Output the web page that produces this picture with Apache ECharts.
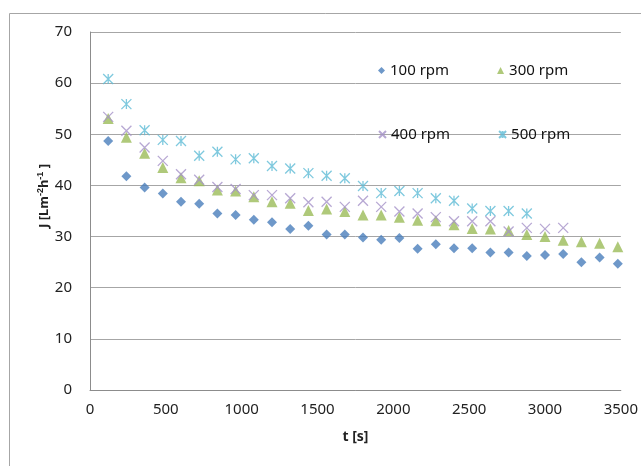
<!DOCTYPE html>
<html>
<head>
<meta charset="utf-8">
<script src="https://cdn.jsdelivr.net/npm/echarts@6/dist/echarts.min.js"></script>
<style>
html,body{margin:0;padding:0;background:#fff;}
#main{width:641px;height:466px;}
</style>
</head>
<body>
<div id="main"></div>
<script>
// time points [s]
var times = [120,240,360,480,600,720,840,960,1080,1200,1320,1440,1560,1680,1800,1920,2040,2160,2280,2400,2520,2640,2760,2880,3000,3120,3240,3360,3480];
// flux J for each speed
var rpm100 = [48.7,41.8,39.6,38.4,36.8,36.4,34.5,34.2,33.3,32.8,31.5,32.1,30.4,30.4,29.8,29.4,29.7,27.6,28.5,27.7,27.7,26.9,26.9,26.2,26.4,26.6,25.0,25.9,24.7];
var rpm300 = [53.1,49.4,46.3,43.5,41.5,40.9,39.1,38.9,37.8,36.8,36.5,35.1,35.4,34.9,34.2,34.2,33.8,33.2,33.1,32.3,31.6,31.5,31.2,30.4,30.0,29.3,29.0,28.7,28.0];
var rpm400 = [53.4,50.7,47.4,44.8,42.2,41.1,39.7,39.3,38.1,38.1,37.5,36.7,36.8,35.8,37.0,35.8,34.9,34.5,33.8,33.0,33.0,33.0,31.0,31.7,31.5,31.7];
var rpm500 = [60.8,55.9,50.8,48.9,48.7,45.8,46.6,45.1,45.3,43.8,43.3,42.4,41.9,41.4,39.9,38.5,38.9,38.5,37.5,37.0,35.5,35.0,35.0,34.5];
var seriesNames = ['100 rpm','300 rpm','400 rpm','500 rpm'];

var font = 'Noto Sans';

function pairs(vals){
    var out = [];
    for(var i = 0; i < vals.length; i++){
        out.push([times[i], vals[i]]);
    }
    return out;
}

var myChart = echarts.init(document.getElementById('main'));

var option = {
    backgroundColor: '#fff',
    animation: false,
    textStyle: {fontFamily: font},
    grid: {left: 90, right: 20, top: 32, bottom: 76},
    graphic: [
        {
            type: 'rect', silent: true, z: -10,
            shape: {x: 9.5, y: 13.5, width: 700, height: 500},
            style: {fill: 'none', stroke: '#a6a6a6', lineWidth: 1}
        },
        {
            type: 'text', x: 44, y: 196, rotation: Math.PI / 2,
            style: {
                text: 'J [Lm{s|-2}h{s|-1} ]',
                align: 'center', verticalAlign: 'middle',
                font: 'bold 13px "Noto Sans"', fill: '#222',
                rich: {s: {fontSize: 9, fontWeight: 'bold', verticalAlign: 'top', padding: [0,0,6,0]}}
            }
        }
    ],
    legend: [
        {
            data: ['100 rpm','300 rpm'],
            left: 373, top: 58, itemWidth: 7, itemHeight: 7, itemGap: 48, itemTextGap: 7,
            textStyle: {fontSize: 15, color: '#111', fontFamily: font}
        },
        {
            data: ['400 rpm','500 rpm'],
            left: 373, top: 122, itemWidth: 7, itemHeight: 7, itemGap: 48, itemTextGap: 7,
            textStyle: {fontSize: 15, color: '#111', fontFamily: font}
        }
    ],
    xAxis: {
        type: 'value', min: 0, max: 3500, interval: 500,
        name: 't [s]', nameLocation: 'middle', nameGap: 40,
        nameTextStyle: {fontSize: 14, fontWeight: 'bold', color: '#222', fontFamily: font},
        axisLine: {show: true, lineStyle: {color: '#8c8c8c'}},
        axisTick: {show: false},
        axisLabel: {fontSize: 15, color: '#222', margin: 12, formatter: function(v){ return String(v); }},
        splitLine: {show: false}
    },
    yAxis: {
        type: 'value', min: 0, max: 70, interval: 10,
        axisLine: {show: true, lineStyle: {color: '#8c8c8c'}},
        axisTick: {show: false},
        axisLabel: {fontSize: 15, color: '#222', margin: 18},
        splitLine: {show: true, lineStyle: {color: '#a6a6a6', width: 1}}
    },
    series: [
        {
            name: seriesNames[0], type: 'scatter', symbol: 'diamond', symbolSize: 10,
            itemStyle: {color: '#4a7ebb'}, data: pairs(rpm100)
        },
        {
            name: seriesNames[1], type: 'scatter', symbol: 'triangle', symbolSize: 11,
            itemStyle: {color: '#9bbb59'}, data: pairs(rpm300)
        },
        {
            name: seriesNames[2], type: 'scatter', symbol: 'path://M0,0L10,10M10,0L0,10', symbolSize: 10,
            itemStyle: {color: 'rgba(0,0,0,0)', borderColor: '#a592c8', borderWidth: 1.3},
            data: pairs(rpm400)
        },
        {
            name: seriesNames[3], type: 'scatter', symbol: 'path://M0,0L10,10M10,0L0,10M5,0L5,10', symbolSize: 10,
            itemStyle: {color: 'rgba(0,0,0,0)', borderColor: '#5fbcd6', borderWidth: 1.3},
            data: pairs(rpm500)
        }
    ]
};

myChart.setOption(option);
</script>
</body>
</html>
